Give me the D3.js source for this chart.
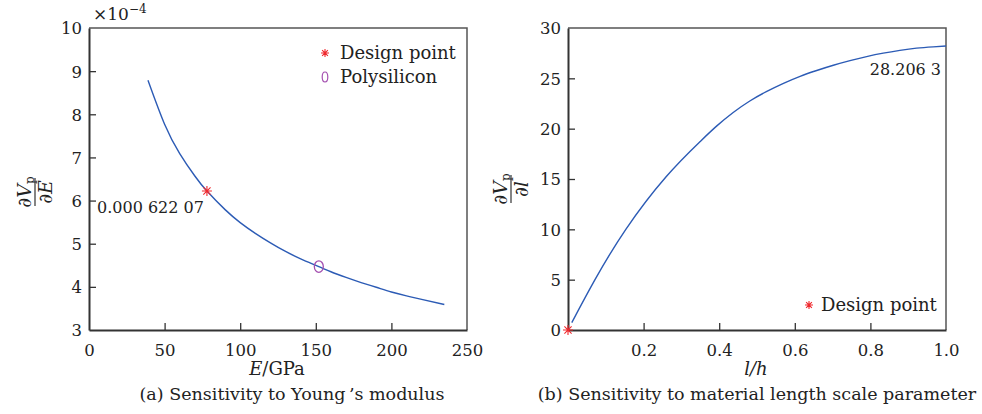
<!DOCTYPE html>
<html>
<head>
<meta charset="utf-8">
<script src="https://cdn.jsdelivr.net/npm/d3@7"></script>
<style>
  body { margin: 0; background: #fff; }
  svg text { font-family: "DejaVu Serif", serif; fill: #222; }
</style>
</head>
<body>
<div id="chart"></div>
<script>
// (a) 弾性率に対する感度 (値は ×10^-4)
const youngE = [39, 50, 60, 70, 78, 90, 100, 110, 120, 130, 140, 152, 160, 170, 180, 190, 200, 210, 220, 235];
const sensE  = [8.79, 7.77, 7.09, 6.57, 6.22, 5.79, 5.49, 5.24, 5.02, 4.82, 4.65, 4.47, 4.35, 4.22, 4.10, 3.99, 3.88, 3.79, 3.71, 3.59];
const designE = [78, 6.2207];
const polyE = [152, 4.47];
const ticksEx = [0, 50, 100, 150, 200, 250];
const ticksEy = [3, 4, 5, 6, 7, 8, 9, 10];

// (b) 材料長さスケールに対する感度
const lRatio = [0.01, 0.0714, 0.153, 0.259, 0.349, 0.393, 0.437, 0.481, 0.526, 0.570, 0.614, 0.658, 0.702, 0.746, 0.790, 0.834, 0.878, 0.922, 0.966, 1.0];
const sensL  = [0.73, 5, 10, 15.2, 18.7, 20.25, 21.6, 22.75, 23.7, 24.5, 25.2, 25.78, 26.3, 26.76, 27.16, 27.5, 27.78, 28.0, 28.13, 28.2063];
const designL = [0, 0];
const ticksLx = [0.2, 0.4, 0.6, 0.8, 1.0];
const ticksLy = [0, 5, 10, 15, 20, 25, 30];

const W = 982, H = 414;
const svg = d3.select("#chart").append("svg").attr("width", W).attr("height", H);

const lineColor = "#2c5bb5";
const red = "#f0282d";
const purple = "#a450b0";

// アスタリスクマーカー
function star(g, cx, cy, r) {
  const d = r * 0.72;
  g.append("path")
    .attr("d", `M${cx},${cy - r}V${cy + r}M${cx - r},${cy}H${cx + r}` +
               `M${cx - d},${cy - d}L${cx + d},${cy + d}M${cx - d},${cy + d}L${cx + d},${cy - d}`)
    .attr("stroke", red).attr("stroke-width", 1.1).attr("fill", "none");
}

function panel(opt) {
  const x = d3.scaleLinear().domain(opt.xDomain).range([opt.left, opt.right]);
  const y = d3.scaleLinear().domain(opt.yDomain).range([opt.bottom, opt.top]);
  const g = svg.append("g");

  // 枠（上と右）
  g.append("path")
    .attr("d", `M${opt.left},${opt.top}H${opt.right}V${opt.bottom}`)
    .attr("fill", "none").attr("stroke", "#555").attr("stroke-width", 1.5);

  // x軸
  const xAxis = d3.axisBottom(x).tickValues(opt.xTicks).tickSizeInner(-7).tickSizeOuter(0)
    .tickPadding(10).tickFormat(opt.xFormat);
  const gx = g.append("g").attr("transform", `translate(0,${opt.bottom})`).call(xAxis);
  // y軸
  const yAxis = d3.axisLeft(y).tickValues(opt.yTicks).tickSizeInner(-7).tickSizeOuter(0)
    .tickPadding(7).tickFormat(d3.format("d"));
  const gy = g.append("g").attr("transform", `translate(${opt.left},0)`).call(yAxis);

  [gx, gy].forEach(a => {
    a.select(".domain").attr("stroke", "#333").attr("stroke-width", 2);
    a.selectAll(".tick line").attr("stroke", "#333").attr("stroke-width", 1.3);
    a.selectAll(".tick text").style("font-family", "DejaVu Serif").style("font-size", "16.5px").attr("fill", "#222");
  });
  gx.selectAll(".tick line").filter(d => d === opt.xDomain[1] || d === opt.xDomain[0]).remove();
  gy.selectAll(".tick line").filter(d => d === opt.yDomain[1] || d === opt.yDomain[0]).remove();
  gx.selectAll(".tick text").attr("dy", "0.95em");
  gy.selectAll(".tick text").attr("dy", "0.36em");

  // 曲線
  const line = d3.line().x(d => x(d[0])).y(d => y(d[1])).curve(d3.curveNatural);
  g.append("path")
    .datum(opt.xs.map((v, i) => [v, opt.ys[i]]))
    .attr("d", line)
    .attr("fill", "none").attr("stroke", lineColor).attr("stroke-width", 1.4);

  return { g, x, y };
}

// ---- (a) ----
const pa = panel({
  left: 89, right: 467, top: 28, bottom: 330,
  xDomain: [0, 250], yDomain: [3, 10],
  xTicks: ticksEx, yTicks: ticksEy, xFormat: d3.format("d"),
  xs: youngE, ys: sensE
});
star(pa.g, pa.x(designE[0]), pa.y(designE[1]), 5);
pa.g.append("ellipse")
  .attr("cx", pa.x(polyE[0])).attr("cy", pa.y(polyE[1]))
  .attr("rx", 4.5).attr("ry", 5.8)
  .attr("fill", "none").attr("stroke", purple).attr("stroke-width", 1.3);

pa.g.append("text").attr("x", 97).attr("y", 213).style("font-size", "16px").text("0.000 622 07");

// 凡例
star(pa.g, 325, 53, 4);
pa.g.append("text").attr("x", 340).attr("y", 59).style("font-size", "18px").text("Design point");
pa.g.append("ellipse").attr("cx", 325).attr("cy", 77).attr("rx", 2.8).attr("ry", 5)
  .attr("fill", "none").attr("stroke", purple).attr("stroke-width", 1.2);
pa.g.append("text").attr("x", 340).attr("y", 83).style("font-size", "18px").text("Polysilicon");

// 指数表記
const ex = pa.g.append("text").attr("x", 93).attr("y", 20).style("font-size", "17px");
ex.append("tspan").text("×10");
ex.append("tspan").attr("dy", -7).style("font-size", "12px").text("−4");

// 軸ラベル
const xlA = pa.g.append("text").attr("x", 277).attr("y", 375).attr("text-anchor", "middle").style("font-size", "18px");
xlA.append("tspan").style("font-style", "italic").text("E");
xlA.append("tspan").text("/GPa");
pa.g.append("text").attr("x", 292).attr("y", 400).attr("text-anchor", "middle").style("font-size", "17.5px")
  .text("(a) Sensitivity to Young\u2009’s modulus");

function fracLabel(cx, cy, den) {
  const g = svg.append("g").attr("transform", `translate(${cx},${cy}) rotate(-90)`);
  const num = g.append("text").attr("x", 0).attr("y", -4).attr("text-anchor", "middle").style("font-size", "19px");
  num.append("tspan").text("∂");
  num.append("tspan").style("font-style", "italic").text("V");
  num.append("tspan").attr("dy", 3).style("font-size", "12px").text("p");
  g.append("line").attr("x1", -14).attr("x2", 14).attr("y1", 0).attr("y2", 0)
    .attr("stroke", "#333").attr("stroke-width", 1.2);
  const dn = g.append("text").attr("x", 0).attr("y", 17).attr("text-anchor", "middle").style("font-size", "19px");
  dn.append("tspan").text("∂");
  dn.append("tspan").style("font-style", "italic").text(den);
}
fracLabel(35, 192, "E");

// ---- (b) ----
const pb = panel({
  left: 568, right: 946, top: 28, bottom: 330,
  xDomain: [0, 1], yDomain: [0, 30],
  xTicks: ticksLx, yTicks: ticksLy, xFormat: d3.format(".1f"),
  xs: lRatio, ys: sensL
});
star(pb.g, pb.x(designL[0]), pb.y(designL[1]), 5);
pb.g.append("text").attr("x", 941).attr("y", 75).attr("text-anchor", "end").style("font-size", "16px").text("28.206 3");

star(pb.g, 809, 305, 4);
pb.g.append("text").attr("x", 821).attr("y", 311).style("font-size", "18px").text("Design point");

const xlB = pb.g.append("text").attr("x", 756).attr("y", 375).attr("text-anchor", "middle").style("font-size", "18px");
xlB.append("tspan").style("font-style", "italic").text("l/h");
pb.g.append("text").attr("x", 757).attr("y", 400).attr("text-anchor", "middle").style("font-size", "17.5px")
  .text("(b) Sensitivity to material length scale parameter");

fracLabel(511, 189, "l");
</script>
</body>
</html>
